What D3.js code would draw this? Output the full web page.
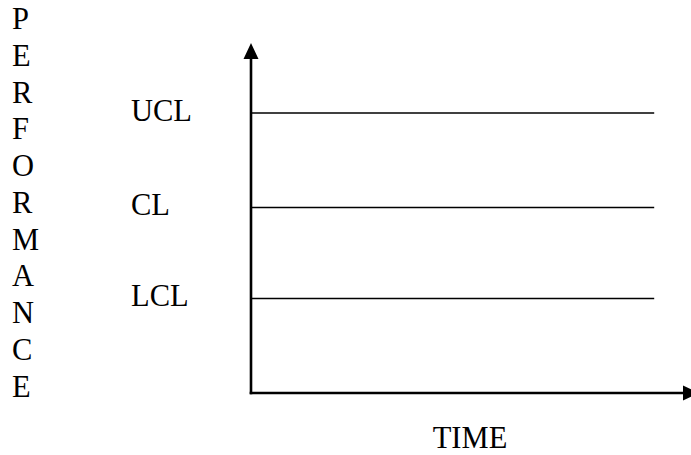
<!DOCTYPE html>
<html>
<head>
<meta charset="utf-8">
<script src="https://cdn.jsdelivr.net/npm/d3@7"></script>
<style>
  html, body { margin: 0; padding: 0; background: #fff; }
  svg { display: block; }
  text { font-family: "Liberation Serif", "Times New Roman", serif; fill: #000; }
</style>
</head>
<body>
<svg id="chart" width="691" height="455"></svg>
<script>
// Data
const yTitle = "PERFORMANCE";
const xTitle = "TIME";
const limitNames = ["UCL", "CL", "LCL"];
const limitValues = [80, 53, 27];
const timeStart = 0;
const timeEnd = 90;

const svg = d3.select("#chart");

const x = d3.scaleLinear().domain([0, 100]).range([251, 699]);
const y = d3.scaleLinear().domain([0, 100]).range([393, 43]);
const fs = 30.5;

// control limit lines
svg.selectAll("line.limit")
  .data(limitValues)
  .enter().append("line")
  .attr("class", "limit")
  .attr("x1", x(timeStart)).attr("x2", x(timeEnd))
  .attr("y1", d => y(d)).attr("y2", d => y(d))
  .attr("stroke", "#000").attr("stroke-width", 1.7);

// labels
svg.selectAll("text.lbl")
  .data(limitNames)
  .enter().append("text")
  .attr("class", "lbl")
  .attr("x", 131)
  .attr("y", (d, i) => y(limitValues[i]) + 7.5)
  .attr("font-size", fs)
  .text(d => d);

// axes
const axisW = 2.6;
svg.append("line")
  .attr("x1", x(0)).attr("x2", x(0))
  .attr("y1", y(0) + axisW / 2).attr("y2", y(100) + 14)
  .attr("stroke", "#000").attr("stroke-width", axisW);
svg.append("line")
  .attr("x1", x(0) - axisW / 2).attr("x2", x(100) - 14)
  .attr("y1", y(0)).attr("y2", y(0))
  .attr("stroke", "#000").attr("stroke-width", axisW);

// arrowheads
const ax = x(0), ay = y(100);
svg.append("path")
  .attr("d", `M${ax},${ay} L${ax - 7.5},${ay + 16} L${ax + 7.5},${ay + 16} Z`)
  .attr("fill", "#000");
const bx = x(100), by = y(0);
svg.append("path")
  .attr("d", `M${bx},${by} L${bx - 16},${by - 7.5} L${bx - 16},${by + 7.5} Z`)
  .attr("fill", "#000");

// vertical y title
svg.append("g").selectAll("text")
  .data(yTitle.split(""))
  .enter().append("text")
  .attr("x", 12)
  .attr("y", (d, i) => 29 + i * 36.75)
  .attr("font-size", fs)
  .text(d => d);

// x title
svg.append("text")
  .attr("x", 470)
  .attr("y", 448)
  .attr("text-anchor", "middle")
  .attr("font-size", fs)
  .text(xTitle);
</script>
</body>
</html>
